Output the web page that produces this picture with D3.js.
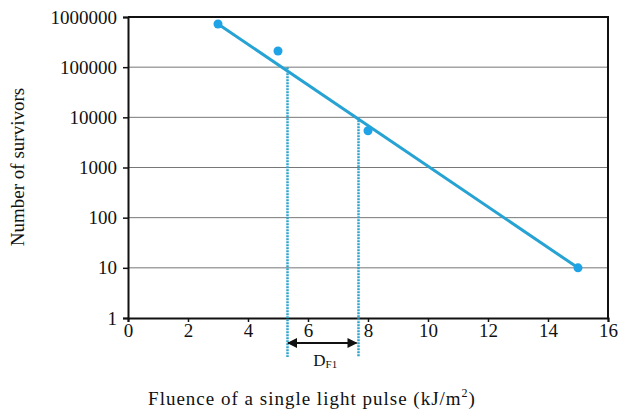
<!DOCTYPE html>
<html>
<head>
<meta charset="utf-8">
<script src="https://cdn.jsdelivr.net/npm/d3@7"></script>
<style>
  body { margin: 0; background: #fff; }
  text { font-family: "Liberation Serif", "Times New Roman", serif; fill: #111; }
</style>
</head>
<body>
<div id="chart"></div>
<script>
// measured points
const fluence = [3, 5, 8, 15];
const survivors = [725000, 210000, 5400, 10];

// fitted line ends
const fitX = [3, 15];
const fitY = [725000, 10];

// D_F1 drop lines (one log cycle)
const dropX = [5.3, 7.65];
const dropY = [100000, 10000];

const xTicks = [0, 2, 4, 6, 8, 10, 12, 14, 16];
const yTicks = [1, 10, 100, 1000, 10000, 100000, 1000000];

const width = 618, height = 416;
const margin = { left: 128, top: 17, right: 10, bottom: 98 };
const plotW = 480, plotH = 301;

const svg = d3.select('#chart').append('svg')
  .attr('width', width)
  .attr('height', height);

const x = d3.scaleLinear().domain([0, 16]).range([margin.left, margin.left + plotW]);
const y = d3.scaleLog().domain([1, 1000000]).range([margin.top + plotH, margin.top]);

// gridlines
svg.append('g')
  .selectAll('line')
  .data(yTicks.slice(1, -1))
  .enter()
  .append('line')
  .attr('x1', x(0)).attr('x2', x(16))
  .attr('y1', d => y(d)).attr('y2', d => y(d))
  .attr('stroke', '#777')
  .attr('stroke-width', 1);

// frame top + right
svg.append('path')
  .attr('d', `M${x(0)},${y(1000000)}H${x(16)}V${y(1)}`)
  .attr('fill', 'none')
  .attr('stroke', '#111')
  .attr('stroke-width', 2);

// y axis
const yAxis = svg.append('g')
  .attr('transform', `translate(${x(0)},0)`)
  .attr('font-family', null)
  .call(d3.axisLeft(y).tickValues(yTicks).tickFormat(d3.format('d')).tickSize(5).tickPadding(6));
yAxis.attr('font-family', '"Liberation Serif", serif');
yAxis.select('.domain').attr('stroke', '#111').attr('stroke-width', 2);
yAxis.selectAll('.tick line').attr('stroke', '#111').attr('stroke-width', 1.5);
yAxis.selectAll('text').attr('font-size', '19px').attr('fill', '#111');

// x axis
const xAxis = svg.append('g')
  .attr('transform', `translate(0,${y(1)})`)
  .call(d3.axisBottom(x).tickValues(xTicks).tickSize(4).tickPadding(2));
xAxis.attr('font-family', '"Liberation Serif", serif');
xAxis.select('.domain').attr('stroke', '#111').attr('stroke-width', 2);
xAxis.selectAll('.tick line').attr('stroke', '#111').attr('stroke-width', 1.5);
xAxis.selectAll('text').attr('font-size', '19px').attr('fill', '#111');

// dotted drop lines
const dropBottom = 357;
svg.append('g')
  .selectAll('line')
  .data(dropX.map((d, i) => [d, dropY[i]]))
  .enter()
  .append('line')
  .attr('x1', d => Math.round(x(d[0])) + 0.5).attr('x2', d => Math.round(x(d[0])) + 0.5)
  .attr('y1', d => y(d[1])).attr('y2', dropBottom)
  .attr('stroke', '#2fa3cc')
  .attr('stroke-width', 2.5)
  .attr('stroke-dasharray', '2,1');

// fitted line
const line = d3.line().x(d => x(d[0])).y(d => y(d[1]));
svg.append('path')
  .datum(fitX.map((d, i) => [d, fitY[i]]))
  .attr('d', line)
  .attr('fill', 'none')
  .attr('stroke', '#27a3d3')
  .attr('stroke-width', 3);

// points
svg.append('g')
  .selectAll('circle')
  .data(fluence.map((d, i) => [d, survivors[i]]))
  .enter()
  .append('circle')
  .attr('cx', d => x(d[0]))
  .attr('cy', d => y(d[1]))
  .attr('r', 4.5)
  .attr('fill', '#1ea4e6');

// double arrow between drop lines
svg.append('defs').append('marker')
  .attr('id', 'ah')
  .attr('viewBox', '0 0 10 10')
  .attr('refX', 9).attr('refY', 5)
  .attr('markerWidth', 11).attr('markerHeight', 10)
  .attr('markerUnits', 'userSpaceOnUse')
  .attr('orient', 'auto-start-reverse')
  .append('path')
  .attr('d', 'M0,0L10,5L0,10Z')
  .attr('fill', '#111');

svg.append('line')
  .attr('x1', x(dropX[0]) + 1).attr('x2', x(dropX[1]) - 1)
  .attr('y1', 343).attr('y2', 343)
  .attr('stroke', '#111')
  .attr('stroke-width', 2)
  .attr('marker-start', 'url(#ah)')
  .attr('marker-end', 'url(#ah)');

const dLabel = svg.append('text')
  .attr('x', (x(dropX[0]) + x(dropX[1])) / 2 + 3)
  .attr('y', 366)
  .attr('text-anchor', 'middle')
  .attr('font-size', '17px');
dLabel.append('tspan').text('D');
dLabel.append('tspan').attr('font-size', '11px').attr('dy', 2).text('F1');

// axis titles
svg.append('text')
  .attr('transform', `translate(24,${167}) rotate(-90)`)
  .attr('text-anchor', 'middle')
  .attr('font-size', '19px')
  .text('Number of survivors');

const xt = svg.append('text')
  .attr('x', 312)
  .attr('y', 405)
  .attr('text-anchor', 'middle')
  .attr('font-size', '19px')
  .attr('letter-spacing', '1px');
xt.append('tspan').text('Fluence of a single light pulse (kJ/m');
xt.append('tspan').attr('font-size', '12px').attr('dy', -8).text('2');
xt.append('tspan').attr('dy', 8).text(')');
</script>
</body>
</html>
